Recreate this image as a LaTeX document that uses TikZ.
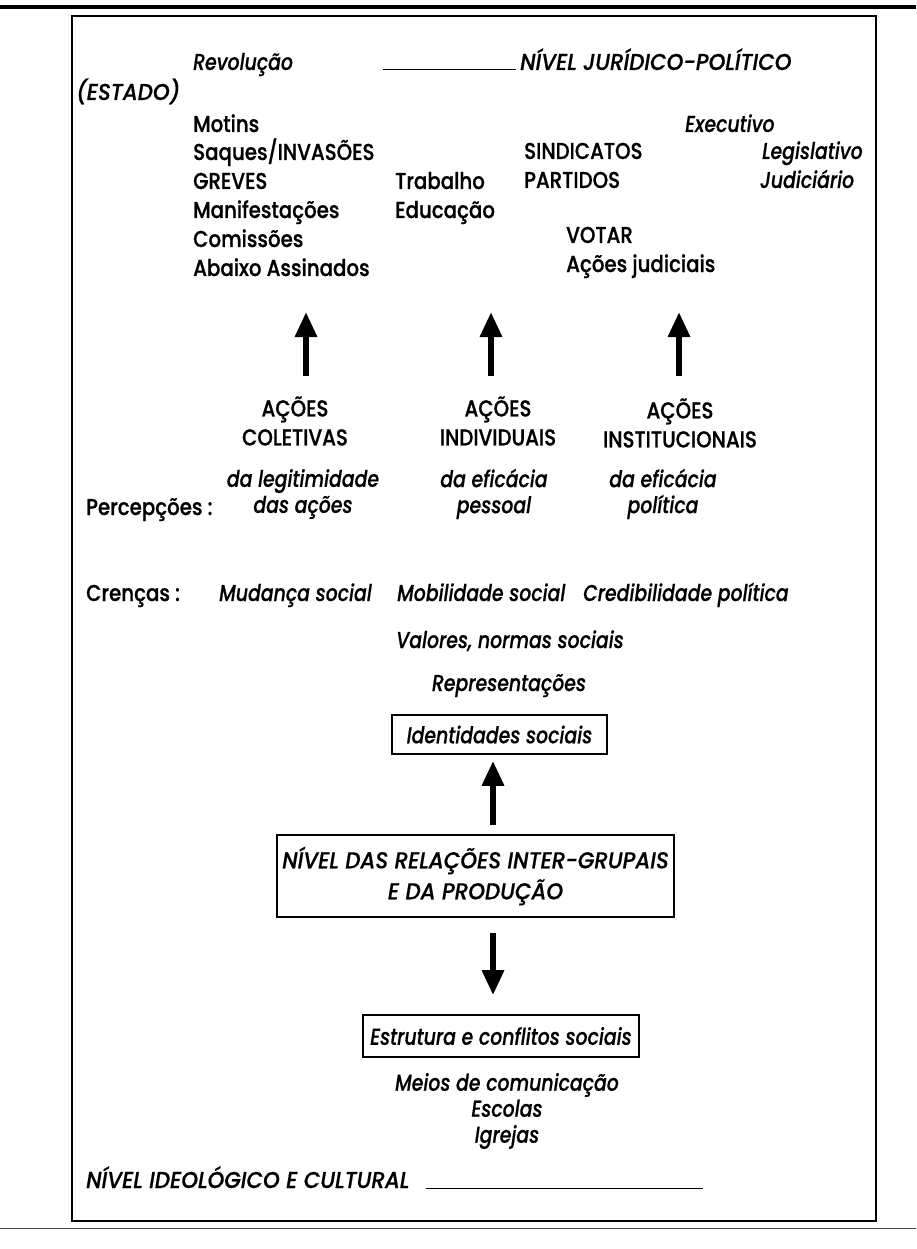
\documentclass[tikz,border=0pt]{standalone}
\usepackage{fontspec}
\setmainfont{Poppins Medium}[ItalicFont={Poppins Medium Italic}, UprightFeatures={FakeStretch=0.86,FakeBold=0.8}, ItalicFeatures={FakeStretch=0.82,FakeBold=0.5}]
\newfontfamily\capsitalic{Poppins Medium Italic}[FakeStretch=0.93,FakeBold=0.6]
\usetikzlibrary{arrows.meta}
\begin{document}
\begin{tikzpicture}[x=1pt,y=-1pt,
  txt/.style={inner sep=0pt, font=\fontsize{23}{29}\selectfont},
  itx/.style={inner sep=0pt, font=\fontsize{23}{26}\selectfont\itshape},
  capit/.style={inner sep=0pt, font=\fontsize{23}{31}\capsitalic},
  bigarrow/.style={line width=6pt, -{Triangle[width=21pt,length=25pt]}},
  boxed/.style={draw, line width=1.6pt, inner sep=0pt, align=center}]
\useasboundingbox (0,0) rectangle (916,1249);
% page rules and frame
\draw[line width=4pt] (0,7) -- (916,7);
\draw[line width=0.8pt, black!70] (0,1228) -- (916,1228);
\draw[line width=2pt] (72,16) rectangle (876,1221);

% top level
\node[itx, anchor=base west] (rev) at (193,70) {Revolução};
\node[capit, anchor=base west] (nivjur) at (520,70) {NÍVEL JURÍDICO-POLÍTICO};
\coordinate (jl) at (383,70);
\draw[line width=1pt] (jl) -- ([xshift=-4pt]nivjur.base west);
\node[capit, anchor=base west] (estado) at (76,100) {(ESTADO)};

\node[txt, anchor=base west] (mot) at (193,132) {Motins};
\node[txt, anchor=base west] (saq) at (193,160) {Saques/INVASÕES};
\node[txt, anchor=base west] (gre) at (193,189) {GREVES};
\node[txt, anchor=base west] (man) at (193,218) {Manifestações};
\node[txt, anchor=base west] (com) at (193,247) {Comissões};
\node[txt, anchor=base west] (aba) at (193,276) {Abaixo Assinados};
\node[txt, anchor=base west] (tra) at (395,189) {Trabalho};
\node[txt, anchor=base west] (edu) at (395,218) {Educação};
\node[itx, anchor=base west] (exe) at (685,132) {Executivo};
\node[txt, anchor=base west] (sin) at (524,159) {SINDICATOS};
\node[itx, anchor=base west] (leg) at (762,159) {Legislativo};
\node[txt, anchor=base west] (par) at (524,188) {PARTIDOS};
\node[itx, anchor=base west] (jud) at (760,188) {Judiciário};
\node[txt, anchor=base west] (vot) at (566,243) {VOTAR};
\node[txt, anchor=base west] (acj) at (566,272) {Ações judiciais};

% actions
\node[txt, align=center] (acol) at (295,421) {AÇÕES\\COLETIVAS};
\node[txt, align=center] (aind) at (498,421) {AÇÕES\\INDIVIDUAIS};
\node[txt, align=center] (ains) at (680,423) {AÇÕES\\INSTITUCIONAIS};
\coordinate (t1) at (306,312);
\coordinate (t2) at (491,312);
\coordinate (t3) at (679,312);
\draw[bigarrow] (acol.north -| t1) ++(0,-20) -- (t1);
\draw[bigarrow] (aind.north -| t2) ++(0,-20) -- (t2);
\draw[bigarrow] (ains.north -| t3) ++(0,-22) -- (t3);

% perceptions
\node[itx, align=center] (leg1) at (303,494) {da legitimidade\\das ações};
\node[itx, align=center] (efp) at (494,494) {da eficácia\\pessoal};
\node[itx, align=center] (efpol) at (663,494) {da eficácia\\política};
\node[txt, anchor=base west] (perc) at (86,515) {Percepções :};

% beliefs
\node[txt, anchor=base west] (cren) at (86,601) {Crenças :};
\node[itx, anchor=base west] (mud) at (219,601) {Mudança social};
\node[itx, anchor=base west] (mob) at (397,601) {Mobilidade social};
\node[itx, anchor=base west] (cred) at (583,601) {Credibilidade política};
\node[itx, anchor=base] (val) at (510,648) {Valores, normas sociais};
\node[itx, anchor=base] (rep) at (509,691) {Representações};

% boxes
\node[boxed, itx, minimum width=215pt, minimum height=39pt] (ident) at (499.5,734.5) {Identidades sociais};
\node[boxed, capit, minimum width=397pt, minimum height=82pt] (nivel) at (475.5,876) {NÍVEL DAS RELAÇÕES INTER-GRUPAIS\\E DA PRODUÇÃO};
\node[boxed, itx, minimum width=276pt, minimum height=42pt] (estr) at (501,1036) {Estrutura e conflitos sociais};
\coordinate (mx) at (493,0);
\draw[bigarrow, shorten <=9pt, shorten >=6pt] (nivel.north -| mx) -- (ident.south -| mx);
\draw[bigarrow, shorten <=15pt, shorten >=19pt] (nivel.south -| mx) -- (estr.north -| mx);

% ideological level
\node[itx, align=center] (meios) at (507,1111) {Meios de comunicação\\Escolas\\Igrejas};
\node[capit, anchor=base west] (nivid) at (86,1188) {NÍVEL IDEOLÓGICO E CULTURAL};
\coordinate (il) at (703,1188);
\draw[line width=1pt] ([xshift=16pt]nivid.base east) -- (il);
\end{tikzpicture}
\end{document}
